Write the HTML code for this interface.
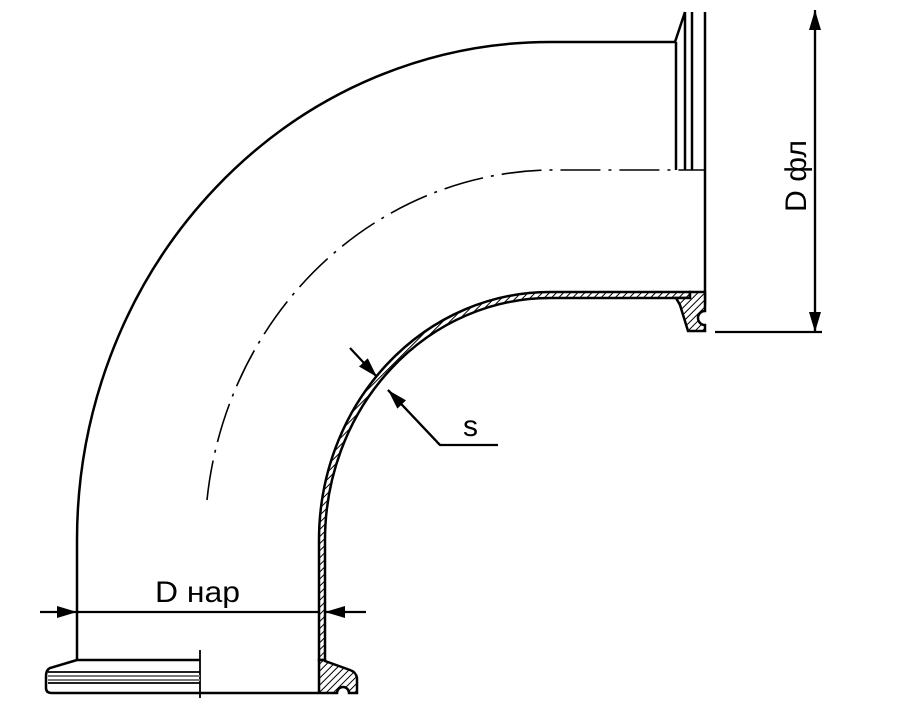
<!DOCTYPE html>
<html><head><meta charset="utf-8"><style>
html,body{margin:0;padding:0;background:#fff;}
svg{display:block;}
text{font-family:"Liberation Sans","DejaVu Sans",sans-serif;fill:#000;}
</style></head><body>
<svg width="897" height="705" viewBox="0 0 897 705" xmlns="http://www.w3.org/2000/svg">
<defs>
<pattern id="h" patternUnits="userSpaceOnUse" width="5" height="5" patternTransform="rotate(45)">
<rect width="5" height="5" fill="#fff"/><line x1="0" y1="0" x2="0" y2="5" stroke="#000" stroke-width="2"/></pattern>
<marker id="b" viewBox="0 0 10 10" refX="10" refY="5" markerWidth="20" markerHeight="20" markerUnits="userSpaceOnUse" orient="auto"><path d="M0,2L10,5L0,8z"/></marker>
</defs>
<g fill="none" stroke="#000" stroke-width="2.5">
<path d="M77,660 L77,540 A473,498 0 0 1 550,42 L675,42"/>
<path d="M319,660 L319,540 A231,248 0 0 1 550,292 L690,292 L690,298 L550,298 A225,242 0 0 0 325,540 L325,660 Z" fill="url(#h)" stroke-width="2.5"/>
<path d="M207,500 A350,370 0 0 1 560,170 L706,170" stroke-width="1.6" stroke-dasharray="40,8,3,8"/>
<path d="M675,42 L685,12 M676,42 L676,170 M685,12 L685,170 M692,12 L692,170 M705,12 L705,305" stroke-width="2.5"/>
<path d="M690,292 L705,292 L705,311 A7,7 0 0 0 705,325 L705,331 L688,331 L680,305 L676,298 L690,298 Z" fill="url(#h)"/>
<path d="M77,660 L200,660 M77,660 L50,668 Q46,670 46,676 L46,688 Q46,693 52,693 L318,693" />
<path d="M200,650 L200,698" stroke-width="1.8"/>
<path d="M48,672 L200,672 M48,683 L200,683" stroke-width="1.8"/>
<path d="M48,676 L200,676 M48,680 L200,680" stroke="#777" stroke-width="2"/>
<path d="M319,660 L319,693 L337,693 A6,6 0 0 1 349,693 L357,693 L357,678 Q356,672 350,670 L325,661 L325,660 Z" fill="url(#h)"/>
</g>
<g stroke="#000" stroke-width="2.2" fill="none">
<line x1="40" y1="612" x2="77" y2="612" marker-end="url(#b)"/>
<line x1="77" y1="612" x2="319" y2="612"/>
<line x1="366" y1="612" x2="325" y2="612" marker-end="url(#b)"/>
<line x1="815" y1="332" x2="815" y2="10" marker-end="url(#b)"/>
<line x1="815" y1="12" x2="815" y2="332" marker-end="url(#b)"/>
<line x1="715" y1="332" x2="822" y2="332"/>
<line x1="350" y1="348" x2="377" y2="377" marker-end="url(#b)"/>
<polyline points="498,445 440,445 388,390"/>
<line x1="440" y1="445" x2="388" y2="390" marker-end="url(#b)"/>
</g>
<text x="155" y="602" font-size="30" textLength="85" lengthAdjust="spacingAndGlyphs">D нар</text>
<text x="463" y="436" font-size="30">s</text>
<text transform="translate(806,212) rotate(-90)" font-size="30" textLength="72" lengthAdjust="spacingAndGlyphs">D фл</text>
</svg>
</body></html>
